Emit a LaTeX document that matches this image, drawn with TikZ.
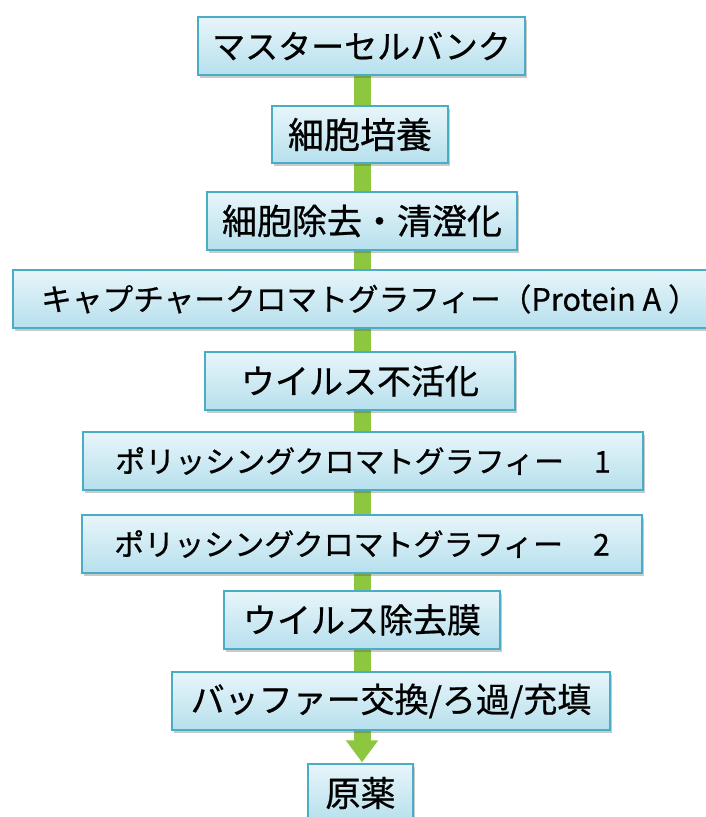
\documentclass[tikz,border=0pt]{standalone}
\usepackage{fontspec}
\newfontfamily\jp[FakeBold=0.7]{Noto Sans CJK JP}
\usetikzlibrary{shadows,backgrounds,arrows.meta,calc}
\definecolor{bx}{RGB}{75,172,198}
\definecolor{btop}{RGB}{232,245,250}
\definecolor{bbot}{RGB}{182,224,237}
\definecolor{grn}{RGB}{141,198,63}
\newcommand{\fs}[1]{\jp\fontsize{#1}{#1}\selectfont}
\begin{document}
\begin{tikzpicture}[x=1pt,y=-1pt,
  box/.style={draw=bx, line width=1.3pt, top color=btop, bottom color=bbot,
    inner sep=0pt, minimum height=58pt,
    drop shadow={shadow xshift=2pt, shadow yshift=-3pt, opacity=0.3, fill=black!70}},
  link/.style={draw=grn, line width=17pt},
  linkarrow/.style={draw=grn, line width=17pt, -{Triangle[width=31pt,length=22pt]}}]
\clip (0,0) rectangle (706,817);
\coordinate (axis) at (362,0);
\node[box, minimum width=327pt, font=\fs{33}] (n1) at (361.5,46) {マスターセルバンク};
\node[box, minimum width=176pt, minimum height=57pt, font=\fs{36}] (n2) at (360,134.5) {細胞培養};
\node[box, minimum width=310pt, font=\fs{35}] (n3) at (362,221) {細胞除去・清澄化};
\node[box, minimum width=698pt, font=\fs{30.7}] (n4) at (362,299) {\hspace*{16pt}キャプチャークロマトグラフィー（Protein A ）};
\node[box, minimum width=310pt, font=\fs{34}] (n5) at (360,381) {ウイルス不活化};
\node[box, minimum width=560pt, font=\fs{30}] (n6) at (363,461) {ポリッシングクロマトグラフィー　1};
\node[box, minimum width=560pt, font=\fs{30}] (n7) at (362,544) {ポリッシングクロマトグラフィー　2};
\node[box, minimum width=276pt, font=\fs{34}] (n8) at (362,620) {ウイルス除去膜};
\node[box, minimum width=438pt, font=\fs{34}] (n9) at (391,701) {バッファー交換/ろ過/充填};
\node[box, minimum width=105pt, font=\fs{35}] (n10) at (360.5,793) {原薬};
\begin{scope}[on background layer]
\draw[link] (n1.south -| axis) -- (n2.north -| axis);
\draw[link] (n2.south -| axis) -- (n3.north -| axis);
\draw[link] (n3.south -| axis) -- (n4.north -| axis);
\draw[link] (n4.south -| axis) -- (n5.north -| axis);
\draw[link] (n5.south -| axis) -- (n6.north -| axis);
\draw[link] (n6.south -| axis) -- (n7.north -| axis);
\draw[link] (n7.south -| axis) -- (n8.north -| axis);
\draw[link] (n8.south -| axis) -- (n9.north -| axis);
\draw[linkarrow] (n9.south -| axis) -- ($(n10.north -| axis)+(0,-1)$);
\end{scope}
\end{tikzpicture}
\end{document}
